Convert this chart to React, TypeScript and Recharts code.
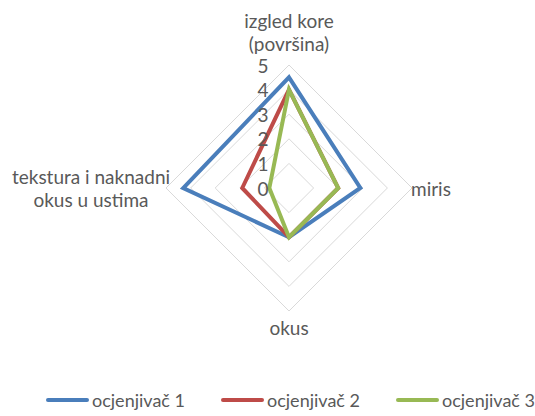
import { RadarChart, PolarGrid, PolarAngleAxis, PolarRadiusAxis, Radar, Legend } from "recharts";

const categories = ["izgled kore (površina)", "miris", "okus", "tekstura i naknadni okus u ustima"];
const categoryLines = [["izgled kore", "(površina)"], ["miris"], ["okus"], ["tekstura i naknadni", "okus u ustima"]];
const ocjenjivac1 = [4.5, 2.9, 2, 4.3];
const ocjenjivac2 = [4, 2, 2, 1.9];
const ocjenjivac3 = [4, 2, 2, 0.8];
const radiusTicks = [0, 1, 2, 3, 4, 5];

const seriesList = [
  { key: "o1", name: "ocjenjivač 1", color: "#4A7EBB" },
  { key: "o2", name: "ocjenjivač 2", color: "#BE4B48" },
  { key: "o3", name: "ocjenjivač 3", color: "#98B954" },
];

const data = categories.map((c, i) => ({
  subject: c,
  o1: ocjenjivac1[i],
  o2: ocjenjivac2[i],
  o3: ocjenjivac3[i],
}));

const FONT = "Lato, 'Open Sans', sans-serif";
const TEXT = "#595959";

// offsets relative to the tick point, per axis (top, right, bottom, left)
const labelPlacement = [
  { dx: 0, dy: [-37, -14], anchor: "middle" },
  { dx: -9, dy: [0], anchor: "start" },
  { dx: 0, dy: [8], anchor: "middle" },
  { dx: -67, dy: [-12, 11], anchor: "middle" },
];

const AngleTick = (props: any) => {
  const { x, y, index } = props;
  const p = labelPlacement[index] ?? labelPlacement[0];
  const lines = categoryLines[index] ?? [String(props.payload?.value)];
  return (
    <g>
      {lines.map((l, i) => (
        <text
          key={i}
          x={x + p.dx}
          y={y + p.dy[i]}
          textAnchor={p.anchor}
          dominantBaseline="central"
          fill={TEXT}
          fontSize={19}
          fontFamily={FONT}
        >
          {l}
        </text>
      ))}
    </g>
  );
};

const RadiusTick = (props: any) => {
  const { x, y, payload } = props;
  return (
    <text x={x - 26} y={y} textAnchor="middle" dominantBaseline="central" fill={TEXT} fontSize={19} fontFamily={FONT}>
      {payload.value}
    </text>
  );
};

const renderLegend = () => (
  <div style={{ display: "flex", justifyContent: "center", gap: 36, fontFamily: FONT, fontSize: 18, color: TEXT, paddingLeft: 46 }}>
    {seriesList.map((s) => (
      <div key={s.key} style={{ display: "flex", alignItems: "center" }}>
        <span style={{ display: "inline-block", width: 43, height: 4, borderRadius: 2, background: s.color, marginRight: 3 }} />
        <span>{s.name}</span>
      </div>
    ))}
  </div>
);

export default function App() {
  return (
    <div style={{ position: "fixed", left: 0, top: 0, width: 535, height: 416, background: "#fff" }}>
      <RadarChart width={535} height={416} data={data} cx={289} cy={188} outerRadius={123}>
        <PolarGrid gridType="polygon" radialLines={false} stroke="#D9D9D9" strokeWidth={1} />
        <PolarAngleAxis dataKey="subject" tick={<AngleTick />} tickLine={false} axisLine={false} />
        <PolarRadiusAxis
          angle={90}
          domain={[0, 5]}
          ticks={radiusTicks}
          tickCount={6}
          tick={<RadiusTick />}
          axisLine={false}
          tickLine={false}
        />
        {seriesList.map((s) => (
          <Radar
            key={s.key}
            name={s.name}
            dataKey={s.key}
            stroke={s.color}
            strokeWidth={4}
            fill="none"
            fillOpacity={0}
            isAnimationActive={false}
          />
        ))}
        <Legend content={renderLegend} wrapperStyle={{ position: "absolute", left: 0, top: 389, width: 535 }} />
      </RadarChart>
    </div>
  );
}
